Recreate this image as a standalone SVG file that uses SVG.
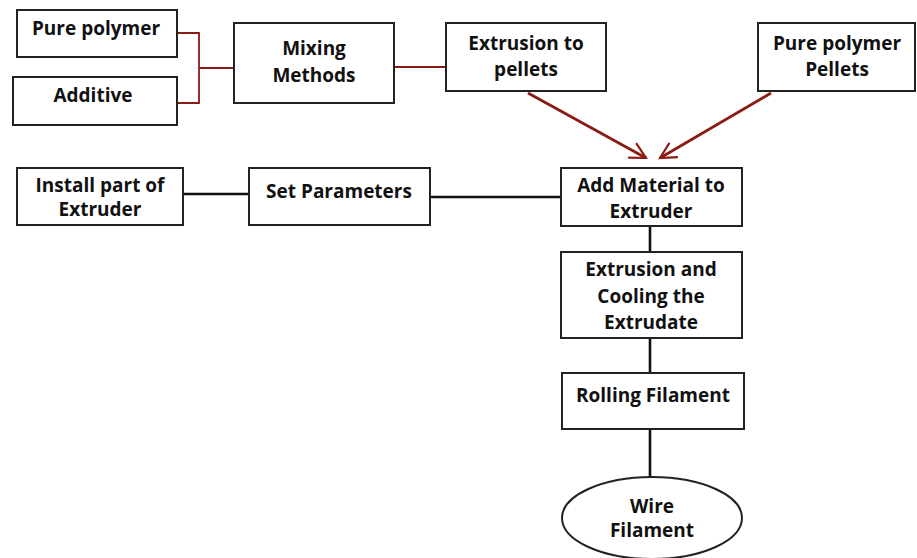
<svg xmlns="http://www.w3.org/2000/svg" width="917" height="558" viewBox="0 0 917 558">
<defs>
<style>
.box{fill:#fff;stroke:#222;stroke-width:2}
.t{font-family:"Open Sans","Liberation Sans",sans-serif;font-weight:bold;font-size:19px;fill:#111;text-anchor:middle;dominant-baseline:central}
.red{fill:none;stroke:#8b1c14;stroke-width:1.8}
.arr{fill:none;stroke:#8b1c14;stroke-width:2.8}
.blk{fill:none;stroke:#111;stroke-width:2.6}
</style>
<marker id="ah" viewBox="0 0 12 12" refX="11" refY="6" markerWidth="10" markerHeight="10" markerUnits="userSpaceOnUse" orient="auto" overflow="visible">
<path d="M-8,-4 L11,6 L-8,16" fill="none" stroke="#8b1c14" stroke-width="2.6"/>
</marker>
</defs>
<rect width="917" height="558" fill="#fff"/>
<g id="connectors">
<polyline class="red" points="177,33 199,33 199,103 177,103"/>
<line class="red" x1="199" y1="68" x2="234" y2="68"/>
<line class="red" x1="394" y1="67" x2="446" y2="67"/>
<line class="arr" x1="528" y1="93" x2="646" y2="158" marker-end="url(#ah)"/>
<line class="arr" x1="771" y1="93" x2="660" y2="158" marker-end="url(#ah)"/>
<line class="blk" x1="183" y1="194" x2="249" y2="194"/>
<line class="blk" x1="430" y1="197" x2="561" y2="197"/>
<line class="blk" x1="650" y1="226" x2="650" y2="252"/>
<line class="blk" x1="650" y1="338" x2="650" y2="373"/>
<line class="blk" x1="650" y1="429" x2="650" y2="477"/>
</g>
<g id="pure-polymer"><rect class="box" x="17" y="10" width="160" height="47"/><text class="t" x="96" y="28">Pure polymer</text></g>
<g id="additive"><rect class="box" x="13" y="77" width="164" height="48"/><text class="t" x="93" y="95">Additive</text></g>
<g id="mixing"><rect class="box" x="234" y="23" width="160" height="80"/><text class="t" x="314" y="48">Mixing</text><text class="t" x="314" y="75">Methods</text></g>
<g id="extrusion-pellets"><rect class="box" x="446" y="23" width="160" height="68"/><text class="t" x="526" y="43">Extrusion to</text><text class="t" x="526" y="69">pellets</text></g>
<g id="pure-polymer-pellets"><rect class="box" x="758" y="23" width="157" height="68"/><text class="t" x="837" y="43">Pure polymer</text><text class="t" x="837" y="69">Pellets</text></g>
<g id="add-material"><rect class="box" x="561" y="168" width="181" height="58"/><text class="t" x="651" y="185">Add Material to</text><text class="t" x="651" y="211">Extruder</text></g>
<g id="install"><rect class="box" x="17" y="168" width="166" height="57"/><text class="t" x="100" y="185">Install part of</text><text class="t" x="100" y="209">Extruder</text></g>
<g id="set-params"><rect class="box" x="249" y="168" width="181" height="57"/><text class="t" x="339" y="191">Set Parameters</text></g>
<g id="extrusion-cooling"><rect class="box" x="561" y="252" width="181" height="86"/><text class="t" x="651" y="269">Extrusion and</text><text class="t" x="651" y="296">Cooling the</text><text class="t" x="651" y="322">Extrudate</text></g>
<g id="rolling"><rect class="box" x="562" y="373" width="182" height="56"/><text class="t" x="653" y="395">Rolling Filament</text></g>
<g id="wire"><ellipse class="box" cx="652" cy="518" rx="90" ry="41"/><text class="t" x="652" y="506">Wire</text><text class="t" x="652" y="530">Filament</text></g>
</svg>
